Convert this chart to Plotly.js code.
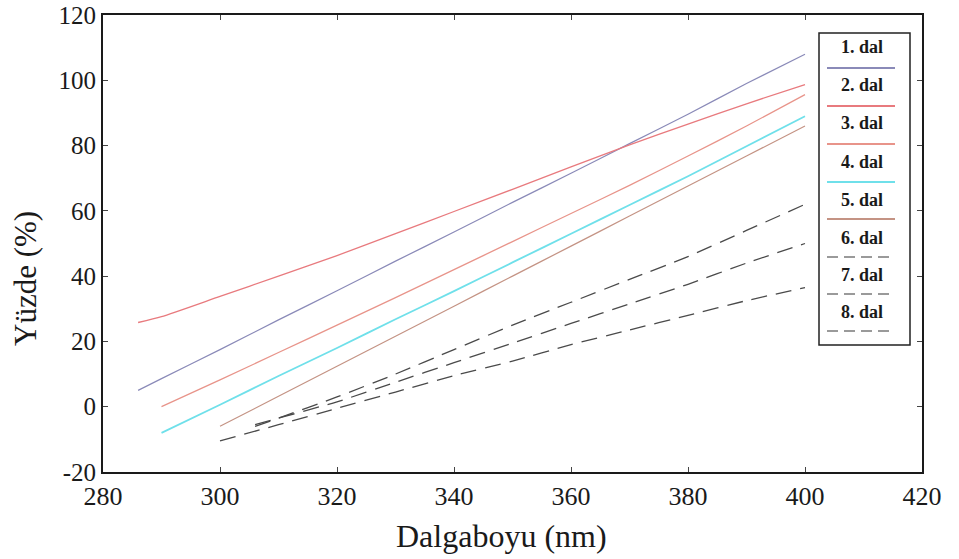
<!DOCTYPE html>
<html><head><meta charset="utf-8">
<script src="https://cdn.plot.ly/plotly-3.0.1.min.js"></script>
<style>html,body{margin:0;padding:0;background:#fff}#chart{width:959px;height:559px}</style>
</head><body><div id="chart"></div>
<script>
// Data
const names = ["1. dal","2. dal","3. dal","4. dal","5. dal","6. dal","7. dal","8. dal"];
const x1 = [286,290,300,310,320,330,340,350,360,370,380,390,400];
const y1 = [5,8.6,17.5,26.6,35.5,44.6,53.5,62.6,71.5,80.6,89.6,99,108];
const x2 = [286,290,300,310,320,330,340,350,360,370,380,390,400];
const y2 = [25.8,27.6,33.8,40,46.3,53,59.8,66.6,73.5,80.2,86.6,92.8,98.7];
const x3 = [290,300,310,320,330,340,350,360,370,380,390,400];
const y3 = [0,8.2,16.6,25,33.4,42,50.6,59.2,67.8,76.8,86,95.6];
const x4 = [290,300,310,320,330,340,350,360,370,380,390,400];
const y4 = [-8,0.6,9.4,18,26.8,35.4,44.2,53,61.8,70.6,79.8,89];
const x5 = [300,310,320,330,340,350,360,370,380,390,400];
const y5 = [-6,3.2,12.4,21.6,30.8,40,49.2,58.4,67.6,76.8,86];
const x6 = [306,310,320,330,340,350,360,370,380,390,400];
const y6 = [-6,-3.5,3,10,17.5,25,32,39,46,54,62];
const x7 = [306,310,320,330,340,350,360,370,380,390,400];
const y7 = [-5.5,-3.5,1.5,7.5,13.5,19.5,25.5,31.5,37.5,44,50];
const x8 = [300,310,320,330,340,350,360,370,380,390,400];
const y8 = [-10.5,-5.5,-0.5,4.5,9.5,14,19,23.5,28,32.5,36.5];
const xTicks = [280,300,320,340,360,380,400,420];
const yTicks = [-20,0,20,40,60,80,100,120];
const yTickText = ["-20","0","20","40","60","80","100","120"];
const xTitle = "Dalgaboyu (nm)";
const yTitle = "Yüzde (%)";

const xs = [x1,x2,x3,x4,x5,x6,x7,x8];
const ys = [y1,y2,y3,y4,y5,y6,y7,y8];
const colors = ["#8a8ab8","#e87a7e","#e8948a","#6fe0ea","#c49384","#4a4a4a","#4a4a4a","#4a4a4a"];
const legColors = ["#8a8ab8","#e87a7e","#e8948a","#6fe0ea","#c49384","#9a9a9a","#9a9a9a","#9a9a9a"];
const dashes = ["solid","solid","solid","solid","solid","16px,9px","16px,9px","16px,9px"];
const widths = [1.2,1.3,1.3,1.8,1.2,1.3,1.3,1.3];
const SERIF = 'Liberation Serif, Times New Roman, serif';

const traces = xs.map((xv,i)=>({
  x: xv, y: ys[i], type:'scatter', mode:'lines', name: names[i],
  line:{color:colors[i], width:widths[i], dash:dashes[i], shape:'spline', smoothing:0.6}, showlegend:false
}));

// manual legend (box, text, line samples) in paper coords
const L=103, R=922, T=15, B=472;
const px = v => (v-L)/(R-L);
const py = v => (B-v)/(B-T);
const shapes = [{type:'rect', xref:'paper', yref:'paper', x0:px(819), x1:px(910), y0:py(33), y1:py(345), line:{color:'#222', width:1.5}, fillcolor:'rgba(255,255,255,1)', layer:'above'}];
const annotations = [];
const textY = [47,85,123,162,200,238,275,312];
const lineY = [68,106,144,182,219,257,294,331];
names.forEach((n,i)=>{
  annotations.push({xref:'paper', yref:'paper', x:px(862), y:py(textY[i]), text:'<b>'+n+'</b>', showarrow:false,
    font:{family:SERIF, size:18, color:'#1a1a1a'}, xanchor:'center', yanchor:'middle'});
  shapes.push({type:'line', xref:'paper', yref:'paper', x0:px(827), x1:px(895), y0:py(lineY[i]), y1:py(lineY[i]),
    line:{color:legColors[i], width:2, dash: i<5?'solid':'11px,6px'}, layer:'above'});
});
annotations.push({xref:'paper', yref:'paper', x:px(501), y:py(536), text:xTitle, showarrow:false,
  font:{family:SERIF, size:32, color:'#1a1a1a'}, xanchor:'center', yanchor:'middle'});
annotations.push({xref:'paper', yref:'paper', x:px(26), y:py(279), text:yTitle, showarrow:false, textangle:-90,
  font:{family:SERIF, size:31, color:'#1a1a1a'}, xanchor:'center', yanchor:'middle'});

const layout = {
  width:959, height:559,
  margin:{l:L, r:959-R, t:T, b:559-B},
  paper_bgcolor:'#fff', plot_bgcolor:'#fff',
  font:{family:SERIF, color:'#1a1a1a'},
  xaxis:{range:[280,420], tickvals:xTicks, ticks:'inside', ticklen:5, tickcolor:'#444', mirror:'ticks',
    showline:true, linecolor:'#1a1a1a', linewidth:2, showgrid:false, zeroline:false, ticklabeloverflow:'allow',
    tickfont:{size:26, family:SERIF, color:'#1a1a1a'}},
  yaxis:{range:[-20,120], tickvals:yTicks, ticktext:yTickText, ticks:'inside', ticklen:5, tickcolor:'#444', mirror:'ticks',
    showline:true, linecolor:'#1a1a1a', linewidth:2, showgrid:false, zeroline:false, ticklabeloverflow:'allow',
    tickfont:{size:25, family:SERIF, color:'#1a1a1a'}},
  shapes: shapes, annotations: annotations, showlegend:false
};
Plotly.newPlot('chart', traces, layout, {staticPlot:true, displayModeBar:false});
</script></body></html>
